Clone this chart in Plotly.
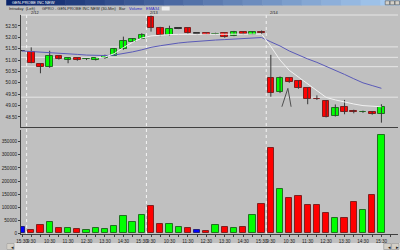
import plotly.graph_objects as go

# ---------------- data ----------------
day_times = ["9:30", "10:00", "10:30", "11:00", "11:30", "12:00", "12:30",
             "13:00", "13:30", "14:00", "14:30", "15:00", "15:30"]
days = ["2/12", "2/13", "2/14"]
times = ["15:30"] + day_times * 3
dates = ["2/11"] + [d for d in days for _ in day_times]

opens = [51.40, 51.34, 50.82, 50.68, 51.18, 50.99, 51.08, 51.04, 51.00, 51.11, 51.20, 51.47, 51.81, 51.94,
         52.88, 52.43, 52.10, 52.38, 52.40, 52.16, 52.18, 52.14, 52.18, 52.07, 52.24, 52.12, 52.22,
         50.23, 49.59, 50.20, 50.08, 49.76, 49.30, 49.22, 48.55, 48.93, 48.76, 48.72, 48.73, 48.63]
highs = [51.42, 51.56, 50.84, 51.41, 51.20, 51.10, 51.10, 51.08, 51.13, 51.24, 51.52, 52.03, 51.96, 52.18,
         52.98, 52.46, 52.51, 52.42, 52.42, 52.22, 52.20, 52.20, 52.20, 52.28, 52.26, 52.26, 52.30,
         51.23, 50.28, 50.24, 50.10, 49.78, 49.45, 49.24, 49.05, 49.25, 48.82, 48.78, 48.76, 49.06]
lows = [51.38, 50.86, 50.42, 50.66, 51.02, 50.86, 50.97, 51.00, 50.98, 51.05, 51.18, 51.45, 51.79, 51.92,
        52.25, 52.05, 52.08, 52.36, 52.16, 52.10, 52.10, 52.12, 51.98, 52.05, 52.12, 52.10, 52.12,
        49.39, 49.55, 50.00, 49.74, 49.06, 49.25, 48.48, 48.52, 48.62, 48.66, 48.68, 48.60, 48.25]
closes = [51.40, 50.89, 50.71, 51.18, 51.04, 51.08, 50.99, 51.06, 51.11, 51.18, 51.49, 51.84, 51.93, 52.12,
          52.40, 52.10, 52.35, 52.38, 52.18, 52.16, 52.12, 52.16, 52.00, 52.24, 52.14, 52.24, 52.18,
          49.54, 50.23, 50.05, 49.76, 49.28, 49.28, 48.51, 48.91, 48.73, 48.71, 48.74, 48.63, 48.95]

volumes = [23000, 12000, 31000, 42000, 20000, 22000, 16000, 12000, 22000, 16000, 29000, 66000, 42000, 71000,
           105000, 35000, 35000, 24000, 19000, 14000, 9000, 31000, 24000, 22000, 24000, 70000, 113000,
           325000, 168000, 135000, 143000, 107000, 107000, 78000, 60000, 57000, 118000, 90000, 145000, 375000]
volume_dir = ["b", "r", "r", "g", "r", "g", "r", "g", "g", "g", "g", "g", "g", "g",
              "r", "r", "g", "g", "r", "b", "r", "g", "r", "g", "r", "g", "r",
              "r", "g", "r", "r", "r", "r", "r", "g", "r", "r", "g", "r", "g"]

ema34 = [51.40, 51.38, 51.35, 51.32, 51.30, 51.27, 51.25, 51.22, 51.20, 51.20, 51.22, 51.28, 51.36, 51.45,
         51.56, 51.63, 51.70, 51.75, 51.79, 51.83, 51.86, 51.88, 51.90, 51.92, 51.94, 51.96, 51.99,
         51.80, 51.62, 51.40, 51.22, 51.05, 50.90, 50.73, 50.55, 50.37, 50.18, 50.00, 49.88, 49.76]
fast_line = [None] * 8 + [51.10, 51.13, 51.28, 51.55, 51.78, 51.97,
                          52.06, 52.10, 52.12, 52.13, 52.13, 52.13, 52.13, 52.13, 52.13, 52.14, 52.14, 52.14, 52.14,
                          51.60, 51.00, 50.55, 50.26, 49.97, 49.65, 49.36, 49.25, 49.15, 49.07, 49.00, 48.97, 48.95]

level_lines = [51.58, 51.12, 50.71, 49.37]
mark_x = [28.2, 28.85, 29.2]
mark_y = [48.95, 49.76, 48.95]

price_ticks = [48.5, 49.0, 49.5, 50.0, 50.5, 51.0, 51.5, 52.0, 52.5]
volume_ticks = [0, 50000, 100000, 150000, 200000, 250000, 300000, 350000]

# ---------------- layout helpers ----------------
W_PX, H_PX = 400, 250
L, R, T, B = 15, 398, 15, 234
PW, PH = R - L, B - T
XR = [-0.11, 40.8]
def px(x):
    return (x - L) / PW
def py(y):
    return (B - y) / PH
def idx_px(i):
    return L + (i - XR[0]) / (XR[1] - XR[0]) * PW

BG = "#c0c0c0"
FONT = "Liberation Sans"
xs = list(range(len(times)))

fig = go.Figure()

# wicks
wx, wy = [], []
for i in xs:
    wx += [i, i, None]
    wy += [lows[i], highs[i], None]
fig.add_trace(go.Scatter(x=wx, y=wy, mode="lines", line=dict(color="#383838", width=1),
                         xaxis="x", yaxis="y", showlegend=False, hoverinfo="skip"))

# bodies
body_base, body_h, body_col, body_line = [], [], [], []
for o, c in zip(opens, closes):
    body_base.append(min(o, c))
    body_h.append(max(abs(c - o), 0.015))
    if abs(c - o) < 0.015:
        body_col.append("#303030")
        body_line.append("#303030")
    elif c > o:
        body_col.append("#00ff00")
        body_line.append("#207020")
    else:
        body_col.append("#ff0000")
        body_line.append("#802020")
fig.add_trace(go.Bar(x=xs, y=body_h, base=body_base, width=0.72,
                     marker=dict(color=body_col, line=dict(color=body_line, width=1)),
                     xaxis="x", yaxis="y", showlegend=False, hoverinfo="skip"))

fig.add_trace(go.Scatter(x=xs, y=ema34, mode="lines", line=dict(color="#5a5ab8", width=1),
                         xaxis="x", yaxis="y", showlegend=False, hoverinfo="skip"))
fig.add_trace(go.Scatter(x=xs, y=fast_line, mode="lines", line=dict(color="#f2f2f2", width=1),
                         xaxis="x", yaxis="y", showlegend=False, hoverinfo="skip"))
fig.add_trace(go.Scatter(x=mark_x, y=mark_y, mode="lines", line=dict(color="#505050", width=1),
                         xaxis="x", yaxis="y", showlegend=False, hoverinfo="skip"))

cmap = {"r": "#ff0000", "g": "#00ff00", "b": "#0000ff"}
lmap = {"r": "#802020", "g": "#207020", "b": "#202080"}
fig.add_trace(go.Bar(x=xs, y=volumes, width=0.68,
                     marker=dict(color=[cmap[c] for c in volume_dir],
                                 line=dict(color=[lmap[c] for c in volume_dir], width=1)),
                     xaxis="x2", yaxis="y2", showlegend=False, hoverinfo="skip"))

shapes = []
for lv in level_lines:
    shapes.append(dict(type="line", xref="paper", yref="y", x0=0, x1=1, y0=lv, y1=lv,
                       line=dict(color="#e6e6e6", width=1), layer="below"))
shapes.append(dict(type="line", xref="paper", yref="paper", x0=0, x1=1, y0=1, y1=1,
                   line=dict(color="#e6e6e6", width=1)))
starts = [i for i in range(1, len(times)) if dates[i] != dates[i - 1]]
for s in starts:
    shapes.append(dict(type="line", xref="x", yref="paper", x0=s - 0.5, x1=s - 0.5, y0=0, y1=1,
                       line=dict(color="#f4f4f4", width=1, dash="dot"), layer="below"))

# title bar gradient
n = 20
c0, c1 = (10, 36, 106), (166, 202, 240)
for k in range(n):
    t = k / (n - 1)
    col = "rgb(%d,%d,%d)" % tuple(int(c0[j] + (c1[j] - c0[j]) * t) for j in range(3))
    shapes.append(dict(type="rect", xref="paper", yref="paper",
                       x0=px(k * W_PX / n), x1=px((k + 1) * W_PX / n + 0.5), y0=py(5.5), y1=py(0),
                       line=dict(width=0), fillcolor=col))
for bx in (385, 390, 395):
    shapes.append(dict(type="rect", xref="paper", yref="paper", x0=px(bx), x1=px(bx + 4.5),
                       y0=py(4.8), y1=py(0.8), line=dict(color="#404040", width=0.5), fillcolor="#d4d0c8"))
shapes.append(dict(type="rect", xref="paper", yref="paper", x0=px(158), x1=px(166), y0=py(10.5), y1=py(6.5),
                   line=dict(width=0), fillcolor="#eeeeee"))
shapes.append(dict(type="rect", xref="paper", yref="paper", x0=px(0), x1=px(400), y0=py(250), y1=py(243),
                   line=dict(width=0), fillcolor="#e4e4e4"))
for bx in (0, 383, 391):
    shapes.append(dict(type="rect", xref="paper", yref="paper", x0=px(bx + 0.5), x1=px(bx + 8), y0=py(249.5),
                       y1=py(243.5), line=dict(color="#808080", width=0.5), fillcolor="#d4d0c8"))

annotations = []
def txt(x, y, s, color="#202020", size=4.0, anchor="left"):
    annotations.append(dict(x=px(x), y=py(y), xref="paper", yref="paper", text=s, showarrow=False,
                            xanchor=anchor, yanchor="middle", borderpad=0,
                            font=dict(family=FONT, size=size, color=color)))

txt(5, 2.7, "GEN-PROBE INC NEW", color="#ffffff", size=4)
txt(2, 8.2, "Intraday  (Left)")
txt(35, 8.2, "GPRO - GEN-PROBE INC NEW (30-Min)")
txt(114, 8.2, "Bar")
txt(124, 8.2, "Volume", color="#2828c8")
txt(141, 8.2, "EMA34", color="#2828c8")
for s in starts:
    txt(idx_px(s - 0.5) + 3, 13.0, dates[s])
txt(4, 246.5, "◂", size=5)
txt(387, 246.5, "◂", size=5)
txt(395, 246.5, "▸", size=5)

tickvals = [i for i, t in enumerate(times) if t.endswith(":30")]
ticktext = [times[i] for i in tickvals]

tickfont = dict(family=FONT, size=4.6, color="#202020")
fig.update_layout(
    width=W_PX, height=H_PX,
    margin=dict(l=L, r=W_PX - R, t=T, b=H_PX - B),
    paper_bgcolor=BG, plot_bgcolor=BG,
    showlegend=False, bargap=0, barmode="overlay",
    shapes=shapes, annotations=annotations,
    xaxis=dict(domain=[0, 1], range=XR, anchor="y", showticklabels=False, ticks="",
               showgrid=False, zeroline=False, showline=True, linecolor="#404040", linewidth=1,
               fixedrange=True),
    yaxis=dict(domain=[py(127), 1], range=[48.06, 52.98], tickvals=price_ticks,
               ticktext=["%.2f" % v for v in price_ticks], tickfont=tickfont, ticks="outside",
               ticklen=2, tickcolor="#404040", showgrid=False, zeroline=False, showline=True,
               linecolor="#404040", linewidth=1, fixedrange=True),
    xaxis2=dict(domain=[0, 1], range=XR, anchor="y2", tickmode="array", tickvals=tickvals,
                ticktext=ticktext, tickfont=tickfont, tickangle=0, ticks="outside", ticklen=2,
                tickcolor="#404040",
                minor=dict(tickmode="linear", tick0=0, dtick=1, ticks="outside", ticklen=2, tickcolor="#404040"),
                showgrid=False, zeroline=False, showline=True, linecolor="#404040", linewidth=1,
                fixedrange=True),
    yaxis2=dict(domain=[0, py(130)], range=[-2500, 395000], tickvals=volume_ticks,
                ticktext=[str(v) for v in volume_ticks], tickfont=tickfont, ticks="outside", ticklen=2,
                tickcolor="#404040", showgrid=False, zeroline=False, showline=True,
                linecolor="#404040", linewidth=1, fixedrange=True),
)

fig.write_html("out.html")
